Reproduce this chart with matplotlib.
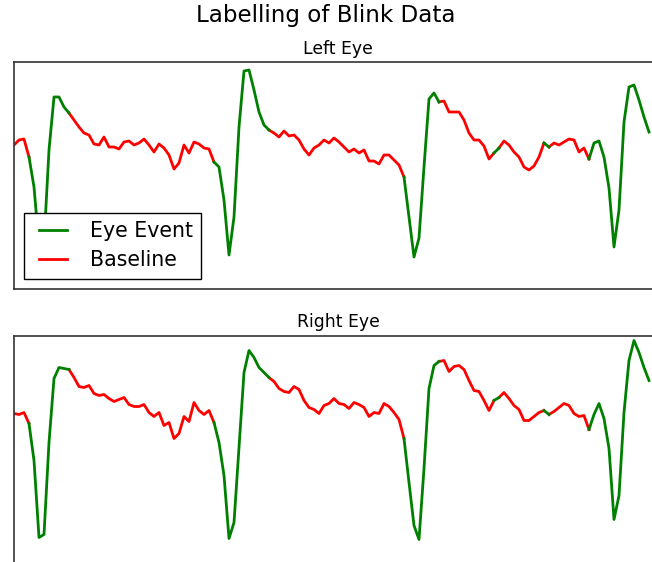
import matplotlib
matplotlib.use('Agg')
import matplotlib.pyplot as plt

# eye signal per sample (arbitrary units)
left_eye = [144, 149, 150, 132, 102, 44, 46, 139, 192, 192,
            182, 176, 169, 162, 156, 154, 145, 144, 152, 142,
            142, 140, 147, 148, 144, 146, 150, 144, 137, 145,
            141, 134, 120, 126, 144, 136, 147, 145, 141, 140,
            127, 122, 89, 34, 72, 162, 218, 219, 199, 177,
            164, 159, 156, 152, 158, 153, 154, 149, 140, 134,
            141, 144, 149, 146, 151, 147, 142, 137, 140, 136,
            139, 128, 128, 125, 134, 134, 129, 124, 112, 72,
            32, 51, 122, 190, 196, 187, 188, 177, 177, 177,
            169, 156, 149, 149, 143, 130, 136, 141, 148, 144,
            137, 132, 122, 119, 123, 132, 146, 142, 146, 144,
            147, 150, 149, 137, 141, 130, 146, 148, 132, 101,
            42, 79, 167, 202, 204, 189, 172, 157]

right_eye = [149, 148, 150, 139, 102, 25, 28, 120, 184, 195,
             194, 193, 185, 176, 175, 177, 169, 167, 168, 164,
             161, 163, 165, 158, 156, 156, 158, 150, 146, 150,
             137, 140, 124, 129, 146, 141, 160, 152, 148, 152,
             140, 120, 87, 24, 40, 115, 190, 212, 205, 195,
             190, 185, 181, 174, 171, 170, 176, 173, 162, 155,
             153, 149, 157, 159, 164, 159, 158, 154, 160, 158,
             155, 146, 150, 149, 159, 156, 150, 143, 124, 80,
             37, 23, 94, 174, 197, 201, 202, 191, 196, 197,
             193, 182, 172, 171, 162, 152, 162, 165, 170, 164,
             157, 153, 142, 142, 146, 150, 152, 148, 151, 155,
             159, 157, 149, 146, 147, 133, 148, 159, 144, 114,
             43, 67, 150, 202, 222, 210, 195, 182]

# sample ranges labelled as eye events (start, end), the rest is baseline
event_spans = [(3, 11), (40, 51), (78, 85), (96, 97), (106, 107), (115, 127)]


def baseline_spans(spans, n):
    out = []
    start = 0
    for s, e in spans:
        if s > start:
            out.append((start, s))
        start = e
    if start < n - 1:
        out.append((start, n - 1))
    return out


def draw_eye(ax, values, title, legend=False):
    x = list(range(len(values)))
    for k, (s, e) in enumerate(baseline_spans(event_spans, len(values))):
        ax.plot(x[s:e + 1], values[s:e + 1], color='red', lw=2,
                label='Baseline' if k == 0 else None)
    for k, (s, e) in enumerate(event_spans):
        ax.plot(x[s:e + 1], values[s:e + 1], color='green', lw=2,
                label='Eye Event' if k == 0 else None)
    ax.set_xlim(0, 129.6)
    ax.set_ylim(0, 227)
    ax.set_xticks([])
    ax.set_yticks([])
    for sp in ax.spines.values():
        sp.set_color('#333333')
        sp.set_linewidth(1.2)
    ax.set_title(title, fontsize=12.4)
    if legend:
        h, l = ax.get_legend_handles_labels()
        order = [l.index('Eye Event'), l.index('Baseline')]
        # old-style legend: two points per handle, square frame
        leg = ax.legend([h[i] for i in order], [l[i] for i in order],
                        loc='lower left', fontsize=14.8, numpoints=2,
                        handlelength=2.0, handletextpad=0.8,
                        labelspacing=0.45, borderpad=0.4,
                        fancybox=False, framealpha=1, edgecolor='black')
        leg.get_frame().set_linewidth(1.0)


def main():
    fig = plt.figure(figsize=(6.52, 5.62), dpi=100)
    W, H = 652.0, 562.0
    ax1 = fig.add_axes([14 / W, (H - 289) / H, 648 / W, 227 / H])
    ax2 = fig.add_axes([14 / W, (H - 562.5) / H, 648 / W, 227 / H])
    draw_eye(ax1, left_eye, 'Left Eye', legend=True)
    draw_eye(ax2, right_eye, 'Right Eye')
    fig.suptitle('Labelling of Blink Data', fontsize=16.6, y=0.992)
    fig.savefig('out.png', dpi=100)


if __name__ == '__main__':
    main()
